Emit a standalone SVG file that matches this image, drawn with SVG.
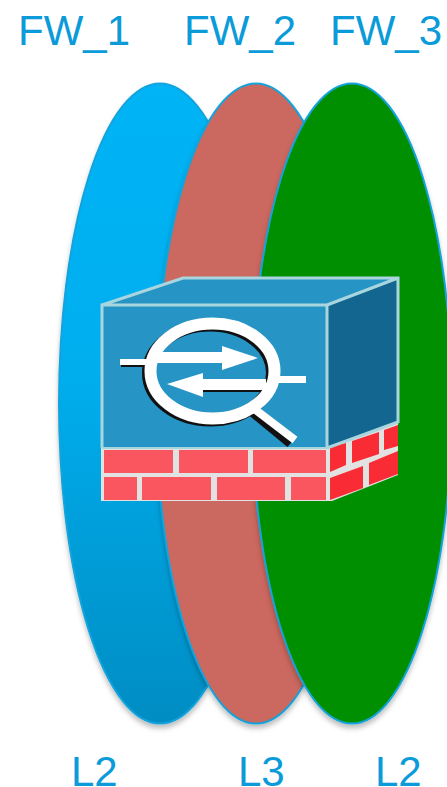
<svg xmlns="http://www.w3.org/2000/svg" width="447" height="787" viewBox="0 0 447 787">
<style>
.lbl{font-family:"Liberation Sans",Arial,sans-serif;font-size:42px;fill:#0A9BD8}
.el{stroke:#12A3DC;stroke-width:2;filter:url(#sh)}
.edge{fill:none;stroke:#A9D5DF;stroke-width:3}
.b{fill:#F9565F}.s{fill:#F92B35}.w{fill:#fff}.k{fill:#111}
</style>
<defs>
<linearGradient id="bl" x1="0" y1="0" x2="0" y2="1"><stop offset="0" stop-color="#00B4F6"/><stop offset="0.45" stop-color="#00AEEE"/><stop offset="1" stop-color="#008DC3"/></linearGradient>
<filter id="sh" x="-10%" y="-5%" width="120%" height="110%"><feDropShadow dx="0" dy="4" stdDeviation="2.500" flood-color="#000" flood-opacity="0.25"/></filter>
</defs>
<g id="fw1"><ellipse class="el" cx="160" cy="403.500" rx="101" ry="320" fill="url(#bl)"/><text class="lbl" x="18" y="45">FW_1</text><text class="lbl" x="71" y="786">L2</text></g>
<g id="fw2"><ellipse class="el" cx="256" cy="403.500" rx="100" ry="320" fill="#CB675F"/><text class="lbl" x="184" y="45">FW_2</text><text class="lbl" x="238" y="786">L3</text></g>
<g id="fw3"><ellipse class="el" cx="352" cy="403.500" rx="100" ry="320" fill="#008F00"/><text class="lbl" x="330" y="45">FW_3</text><text class="lbl" x="375" y="786">L2</text></g>
<g id="firewall">
<polygon points="102,305 183,278 398,278 327,305" fill="#2694C4"/>
<rect x="102" y="305" width="225" height="143" fill="#2694C4"/>
<polygon points="327,305 398,278 398,422 327,448" fill="#12668F"/>
<polygon points="101,448 328,448 398,422 398,475 332,501 101,501" fill="#E2E2E2"/>
<g class="b">
<rect x="104" y="450" width="69" height="23"/><rect x="179" y="450" width="69" height="23"/><rect x="253" y="450" width="73" height="23"/>
<rect x="104" y="477" width="33" height="23"/><rect x="142" y="477" width="69" height="23"/><rect x="217" y="477" width="68" height="23"/><rect x="291" y="477" width="35" height="23"/>
</g>
<g class="s">
<polygon points="330,447 346,443 346,465 330,472"/><polygon points="352,441 379,432 379,454 352,463"/><polygon points="384,430 398,425 398,446 384,450"/>
<polygon points="330,478 363,466 363,488 330,500"/><polygon points="369,463 398,451 398,474 369,485"/>
</g>
<path class="edge" d="M102,448V305H327V448M102,305L183,278H398V422L327,448M327,305L398,278"/>
<path d="M102,448H327" stroke="#A9D5DF" stroke-width="2"/>
<g id="icon">
<rect class="k" x="121" y="362" width="32" height="5"/>
<rect class="k" x="203" y="386" width="63" height="6"/>
<ellipse cx="210" cy="373" rx="62" ry="47.500" fill="none" stroke="#111" stroke-width="12"/>
<path d="M250,411L290,444" stroke="#111" stroke-width="8"/>
<rect class="w" x="120" y="359" width="32" height="6"/>
<rect class="w" x="155" y="352" width="68" height="11"/>
<polygon class="w" points="222,346 258,358 222,370"/>
<rect class="w" x="203" y="379" width="63" height="11"/>
<polygon class="w" points="167,384 203,373 203,397"/>
<rect class="w" x="278" y="376" width="28" height="7"/>
<ellipse cx="212.500" cy="371" rx="62" ry="47.500" fill="none" stroke="#fff" stroke-width="12"/>
<path d="M253,408L295,440" stroke="#fff" stroke-width="8"/>
</g>
</g>
<g id="connectors"/>
</svg>
